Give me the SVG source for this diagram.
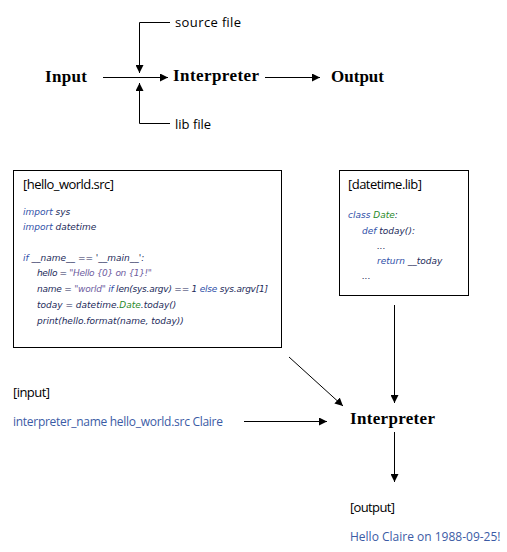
<svg xmlns="http://www.w3.org/2000/svg" width="507" height="552" viewBox="0 0 507 552">
<style>
.bold{font-family:"Liberation Serif",serif;font-weight:bold;font-size:17px;fill:#000}
.lbl{font-family:"Open Sans","DejaVu Sans",sans-serif;font-size:13px;fill:#000}
.blue{font-family:"Open Sans","DejaVu Sans",sans-serif;font-size:12px;fill:#3b5ba5}
.code{font-family:"DejaVu Sans",sans-serif;font-style:italic;font-size:9px;fill:#1c2a5a}
.kw{fill:#2f4fa8}
.str{fill:#6e5c9e}
.cls{fill:#2a8a2a}
.box{fill:#fff;stroke:#000;stroke-width:1}
.ln{fill:none;stroke:#000;stroke-width:1}
</style>
<defs>
<marker id="ah" markerWidth="8" markerHeight="8" refX="8" refY="4" orient="auto" markerUnits="userSpaceOnUse">
<path d="M0,0 L8,4 L0,8 z" fill="#000"/>
</marker>
</defs>
<rect width="507" height="552" fill="#fff"/>
<g id="connectors">
<path class="ln" d="M170,22.5 H139.5 V73" marker-end="url(#ah)"/>
<path class="ln" d="M170,123.5 H139.5 V83" marker-end="url(#ah)"/>
<path class="ln" d="M103,77.5 H168" marker-end="url(#ah)"/>
<path class="ln" d="M265,77.5 H320" marker-end="url(#ah)"/>
<path class="ln" d="M289,357 L343,406" marker-end="url(#ah)"/>
<path class="ln" d="M394.5,305 V403" marker-end="url(#ah)"/>
<path class="ln" d="M244,421.5 H327" marker-end="url(#ah)"/>
<path class="ln" d="M394.5,432 V482" marker-end="url(#ah)"/>
</g>
<g id="source-file"><text class="lbl" x="175" y="27" textLength="66">source file</text></g>
<g id="lib-file"><text class="lbl" x="175" y="129">lib file</text></g>
<g id="input"><text class="bold" x="45" y="82" textLength="42">Input</text></g>
<g id="interpreter-top"><text class="bold" x="173" y="81" textLength="86">Interpreter</text></g>
<g id="output"><text class="bold" x="331" y="82" textLength="53">Output</text></g>
<g id="hello-world-src">
<rect class="box" x="13.5" y="170.5" width="268" height="177"/>
<text class="lbl" x="23" y="189" textLength="91">[hello_world.src]</text>
<text class="code" x="23" y="215"><tspan class="kw">import</tspan> sys</text>
<text class="code" x="23" y="230"><tspan class="kw">import</tspan> datetime</text>
<text class="code" x="23" y="261"><tspan class="kw">if</tspan> __name__ == '__main__':</text>
<text class="code" x="37" y="276" textLength="115">hello = <tspan class="str">"Hello {0} on {1}!"</tspan></text>
<text class="code" x="37" y="292" textLength="231">name = <tspan class="str">"world"</tspan> <tspan class="kw">if</tspan> len(sys.argv) == 1 <tspan class="kw">else</tspan> sys.argv[1]</text>
<text class="code" x="37" y="308">today = datetime.<tspan class="cls">Date</tspan>.today()</text>
<text class="code" x="37" y="324">print(hello.format(name, today))</text>
</g>
<g id="datetime-lib">
<rect class="box" x="339.5" y="170.5" width="129" height="125"/>
<text class="lbl" x="348" y="189" textLength="74">[datetime.lib]</text>
<text class="code" x="348" y="218"><tspan class="kw">class</tspan> <tspan class="cls">Date</tspan>:</text>
<text class="code" x="362" y="234"><tspan class="kw">def</tspan> today():</text>
<text class="code" x="377" y="249">...</text>
<text class="code" x="377" y="264"><tspan class="kw">return</tspan> __today</text>
<text class="code" x="362" y="279">...</text>
</g>
<g id="input-cmd">
<text class="lbl" x="13" y="397" textLength="37">[input]</text>
<text class="blue" x="13" y="426" textLength="210">interpreter_name hello_world.src Claire</text>
</g>
<g id="interpreter-bottom"><text class="bold" x="350" y="424" textLength="85">Interpreter</text></g>
<g id="output-result">
<text class="lbl" x="350" y="512" textLength="45">[output]</text>
<text class="blue" x="350" y="541">Hello Claire on 1988-09-25!</text>
</g>
</svg>
